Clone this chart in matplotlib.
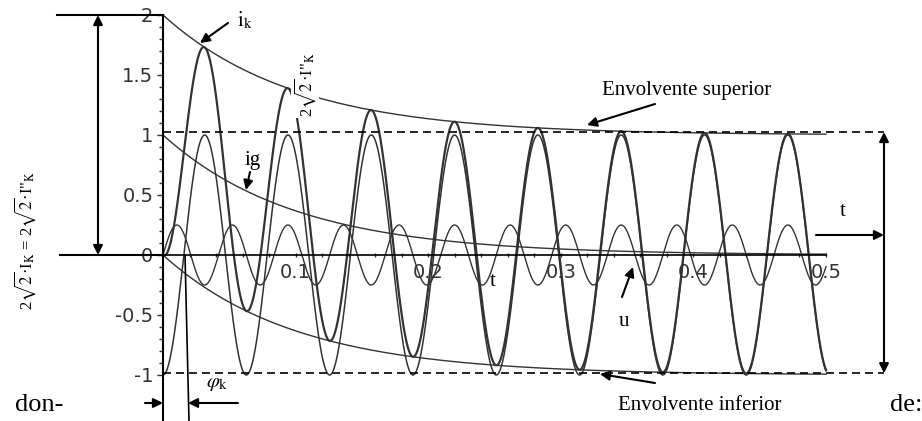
import numpy as np
import matplotlib.pyplot as plt

plt.rcParams['mathtext.fontset'] = 'stix'

# Parametros
tau = 0.1          # constante de tiempo de la componente continua
omega = 100.0      # pulsacion de la corriente de cortocircuito
omega_u = 150.0    # pulsacion de la tension u
amp_u = 0.25       # amplitud de u
t_fin = 0.5

y_ticks = [-1, -0.5, 0, 0.5, 1, 1.5, 2]
y_labels = ['-1', '-0.5', '0', '0.5', '1', '1.5', '2']
x_ticks = [0.1, 0.2, 0.3, 0.4, 0.5]
x_labels = ['0.1', '0.2', '0.3', '0.4', '0.5']

# Curvas
t = np.linspace(0, t_fin, 3000)
ig = np.exp(-t / tau)
env_sup = 1 + ig
env_inf = -1 + ig
i_ac = -np.cos(omega * t)
i_k = ig + i_ac
u = amp_u * np.sin(omega_u * t)

# Escala: origen en pixel (163, 255), 1326 px por unidad en t, 120 px por unidad en y
W, H = 922, 421
x0, y0, sx, sy = 163, 255, 1326.0, 120.0


def px(x, y):
    return ((x - x0) / sx, (y0 - y) / sy)


fig = plt.figure(figsize=(W / 100, H / 100), dpi=100)
ax = fig.add_axes([0, 0, 1, 1])
ax.set_xlim(-x0 / sx, (W - x0) / sx)
ax.set_ylim(-(H - y0) / sy, y0 / sy)

gris = '#333333'
ax.plot(t, env_sup, color=gris, lw=1.0)
ax.plot(t, env_inf, color=gris, lw=1.0)
ax.plot(t, ig, color=gris, lw=1.0)
ax.plot(t, u, color=gris, lw=1.0)
ax.plot(t, i_ac, color=gris, lw=1.1)
ax.plot(t, i_k, color=gris, lw=1.6)

# Lineas discontinuas de la envolvente estacionaria
xd = px(884, 0)[0]
ax.plot([0, xd], [1.025, 1.025], color='k', lw=1.2, ls=(0, (4.8, 3)))
ax.plot([0, xd], [-0.985, -0.985], color='k', lw=1.2, ls=(0, (4.8, 3)))

# Ejes centrados
for s in ['top', 'right']:
    ax.spines[s].set_visible(False)
ax.spines['left'].set_position(('data', 0))
ax.spines['bottom'].set_position(('data', 0))
ax.spines['left'].set_bounds(ax.get_ylim()[0], 2)
ax.spines['bottom'].set_bounds(0, t_fin)
ax.spines['left'].set_linewidth(1.5)
ax.spines['bottom'].set_linewidth(1.2)

ax.set_yticks(y_ticks)
ax.set_yticklabels(y_labels)
ax.set_yticks(np.arange(-1, 2.01, 0.1), minor=True)
ax.set_xticks(x_ticks)
ax.set_xticklabels(x_labels)
ax.set_xticks(np.arange(0, 0.501, 0.02), minor=True)
ax.tick_params(axis='y', which='major', direction='out', length=4.5, width=1,
               pad=2.5, labelsize=14, colors=gris)
ax.tick_params(axis='y', which='minor', direction='out', length=3, width=1,
               colors=gris)
ax.tick_params(axis='x', which='both', direction='inout', length=3, width=1,
               pad=4, labelsize=14, colors=gris)
for lbl in ax.get_xticklabels() + ax.get_yticklabels():
    lbl.set_family('DejaVu Sans')

# Cotas
flecha = dict(arrowstyle='<|-|>', color='k', lw=1.5, mutation_scale=14,
              shrinkA=0, shrinkB=0)
simple = dict(arrowstyle='-|>', color='k', lw=1.5, mutation_scale=14,
              shrinkA=0, shrinkB=0)

ax.plot([px(57, 0)[0], 0], [2, 2], color='k', lw=1.5)
ax.plot([px(60, 0)[0], 0], [0, 0], color='k', lw=1.5)
ax.annotate('', xy=(px(98, 0)[0], 2), xytext=(px(98, 0)[0], 0), arrowprops=flecha)
ax.annotate('', xy=(xd, 1.025), xytext=(xd, -0.985), arrowprops=flecha)

# Cota phi_k
ax.plot([px(185, 0)[0], px(189, 0)[0]], [0, px(0, 421)[1]], color='k', lw=1.2)
ax.annotate('', xy=px(163, 403), xytext=px(145, 403), arrowprops=simple)
ax.annotate('', xy=px(188, 403), xytext=px(238, 403), arrowprops=simple)

# Flechas de los rotulos
ax.annotate('', xy=px(200, 43), xytext=px(228, 23), arrowprops=simple)
ax.annotate('', xy=px(246, 190), xytext=px(250, 172), arrowprops=simple)
ax.annotate('', xy=px(587, 125), xytext=px(655, 104), arrowprops=simple)
ax.annotate('', xy=px(600, 374), xytext=px(655, 383), arrowprops=simple)
ax.annotate('', xy=px(633, 267), xytext=px(622, 297), arrowprops=simple)
ax.annotate('', xy=px(884, 235), xytext=px(816, 235), arrowprops=simple)

# Textos
serif = 'Liberation Serif'
i2 = '2$\\sqrt{2}$·I"$_{\\mathrm{K}}$'
ax.text(*px(245, 20), r'$\mathrm{i}_{\mathrm{k}}$', fontsize=15, ha='center', va='center')
ax.text(*px(253, 160), 'ig', family=serif, fontsize=15, ha='center', va='center')
ax.text(*px(305, 85), i2, family=serif, fontsize=12,
        rotation=90, ha='center', va='center',
        bbox=dict(facecolor='white', edgecolor='none', pad=0.5))
ax.text(*px(687, 91), 'Envolvente superior', family=serif, fontsize=15,
        ha='center', va='center')
ax.text(*px(493, 281), 't', family=serif, fontsize=15, ha='center', va='center')
ax.text(*px(843, 212), 't', family=serif, fontsize=15, ha='center', va='center')
ax.text(*px(624, 322), 'u', family=serif, fontsize=15, ha='center', va='center')
ax.text(*px(700, 405), 'Envolvente inferior', family=serif, fontsize=15,
        ha='center', va='center')
ax.text(*px(217, 383), r'$\varphi_{\mathrm{k}}$', fontsize=15, ha='center', va='center')
ax.text(*px(39, 405), 'don-', family=serif, fontsize=19, ha='center', va='center')
ax.text(*px(906, 405), 'de:', family=serif, fontsize=19, ha='center', va='center')
ax.text(*px(25, 240), '2$\\sqrt{2}$·I$_{\\mathrm{K}}$ = ' + i2,
        family=serif, fontsize=12, rotation=90, ha='center', va='center')

fig.savefig('out.png', dpi=100)
